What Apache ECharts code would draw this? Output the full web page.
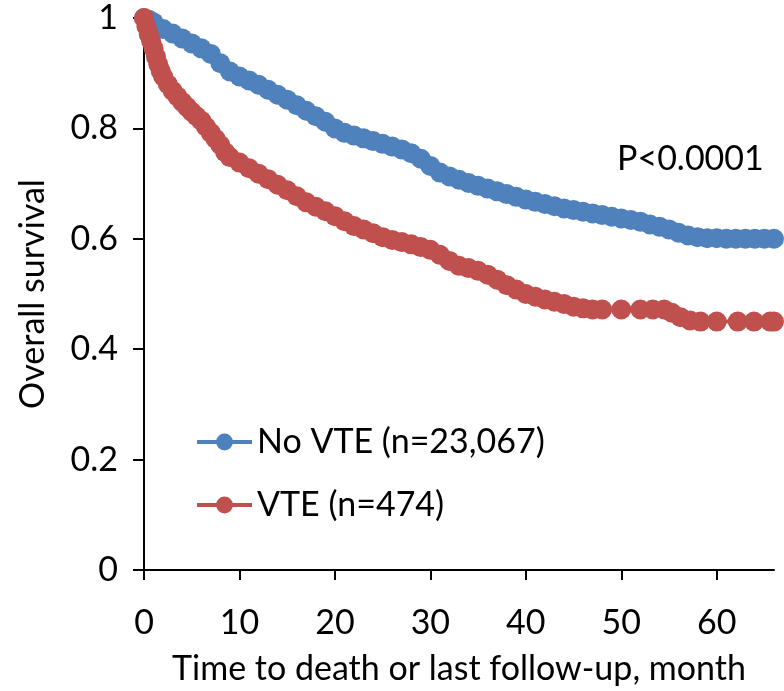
<!DOCTYPE html>
<html>
<head>
<meta charset="utf-8">
<script src="https://cdn.jsdelivr.net/npm/echarts@6/dist/echarts.min.js"></script>
<style>html,body{margin:0;padding:0;background:#fff}#c{width:784px;height:691px}</style>
</head>
<body>
<div id="c"></div>
<script>
// Data
const yTicks = [0, 0.2, 0.4, 0.6, 0.8, 1];
const xTicks = [0, 10, 20, 30, 40, 50, 60];
const seriesNames = ['No VTE (n=23,067)', 'VTE (n=474)'];

const noVteTime = [0,0.5,1,2,3,4,5,6,7,8,9,10,11,12,13,14,15,16,17,18,19,20,21,22,23,24,25,26,27,28,29,30,31,32,33,34,35,36,37,38,39,40,41,42,43,44,45,46,47,48,49,50,51,52,53,54,55,56,57,58,59,60,61,62,63,64,65,66];
const noVteSurv = [1.0,0.997,0.992,0.98,0.972,0.963,0.954,0.945,0.935,0.918,0.903,0.894,0.887,0.879,0.870,0.861,0.852,0.842,0.832,0.822,0.812,0.80,0.792,0.787,0.782,0.777,0.772,0.767,0.762,0.755,0.745,0.732,0.72,0.713,0.707,0.701,0.696,0.691,0.686,0.681,0.676,0.671,0.667,0.663,0.659,0.655,0.652,0.649,0.646,0.643,0.640,0.637,0.634,0.631,0.626,0.622,0.617,0.611,0.606,0.603,0.601,0.601,0.600,0.600,0.600,0.600,0.600,0.600];

const vteTime = [0,0.25,0.5,0.75,1,1.25,1.5,1.75,2,2.5,3,3.5,4,4.5,5,5.5,6,6.5,7,7.5,8,8.5,9,10,11,12,13,14,15,16,17,18,19,20,21,22,23,24,25,26,27,28,29,30,31,32,33,34,35,36,37,38,39,40,41,42,43,44,45,46,47,48,50,52,53.3,54.5,55.3,56.2,57.2,58.3,60,62.2,63.9,65.6,66];
const vteSurv = [1.0,0.985,0.97,0.958,0.945,0.93,0.916,0.904,0.894,0.88,0.868,0.858,0.848,0.839,0.83,0.822,0.814,0.803,0.792,0.781,0.77,0.757,0.748,0.738,0.728,0.718,0.708,0.698,0.688,0.677,0.666,0.658,0.65,0.641,0.632,0.623,0.617,0.61,0.603,0.598,0.594,0.59,0.585,0.58,0.571,0.56,0.551,0.547,0.542,0.535,0.526,0.516,0.508,0.5,0.495,0.49,0.486,0.482,0.477,0.474,0.472,0.472,0.472,0.472,0.472,0.472,0.466,0.458,0.452,0.45,0.45,0.45,0.45,0.45,0.45];

const pText = 'P<0.0001';
const xTitle = 'Time to death or last follow-up, month';
const yTitle = 'Overall survival';

const FONT = 'Lato';
const FS = 34;
const BLUE = '#4F81BD';
const RED = '#C0504D';

function pairs(xs, ys) { return xs.map((x, i) => [x, ys[i]]); }

const chart = echarts.init(document.getElementById('c'));
chart.setOption({
  animation: false,
  backgroundColor: '#fff',
  textStyle: { fontFamily: FONT },
  grid: { left: 144, top: 18, width: 630, height: 554, containLabel: false },
  xAxis: {
    type: 'value', min: 0, max: 66, interval: 10,
    name: xTitle, nameLocation: 'middle', nameGap: 82,
    nameTextStyle: { fontSize: FS, color: '#000', fontFamily: FONT },
    axisLine: { show: true, lineStyle: { color: '#000', width: 2 } },
    axisTick: { show: true, length: 10, lineStyle: { color: '#000', width: 2 } },
    axisLabel: { fontSize: FS, color: '#000', margin: 36, fontFamily: FONT,
      formatter: v => xTicks.indexOf(v) >= 0 ? String(v) : '' , showMaxLabel: false },
    splitLine: { show: false }
  },
  yAxis: {
    type: 'value', min: 0, max: 1, interval: 0.2,
    name: yTitle, nameLocation: 'middle', nameGap: 94, nameRotate: 90,
    nameTextStyle: { fontSize: FS, color: '#000', fontFamily: FONT },
    axisLine: { show: true, lineStyle: { color: '#000', width: 2 } },
    axisTick: { show: true, length: 11, lineStyle: { color: '#000', width: 2 } },
    axisLabel: { fontSize: FS, color: '#000', margin: 26, fontFamily: FONT,
      formatter: v => { const t = yTicks.find(k => Math.abs(k - v) < 1e-9); return t === undefined ? '' : String(t); } },
    splitLine: { show: false }
  },
  legend: {
    orient: 'vertical', left: 195, top: 425, padding: 0,
    itemWidth: 55, itemHeight: 21, itemGap: 29,
    lineStyle: { width: 4 },
    textStyle: { fontSize: FS, color: '#000', fontFamily: FONT },
    data: seriesNames
  },
  graphic: [{
    type: 'text', left: 617, top: 142,
    style: { text: pText, fontSize: FS, fill: '#000', fontFamily: FONT }
  }],
  series: [
    {
      name: seriesNames[0], type: 'line', data: pairs(noVteTime, noVteSurv),
      symbol: 'circle', symbolSize: 20, showAllSymbol: true, clip: false,
      color: BLUE, itemStyle: { color: BLUE },
      lineStyle: { color: BLUE, width: 4 }
    },
    {
      name: seriesNames[1], type: 'line', data: pairs(vteTime, vteSurv),
      symbol: 'circle', symbolSize: 20, showAllSymbol: true, clip: false,
      color: RED, itemStyle: { color: RED },
      lineStyle: { color: RED, width: 4 }
    }
  ]
});
</script>
</body>
</html>
